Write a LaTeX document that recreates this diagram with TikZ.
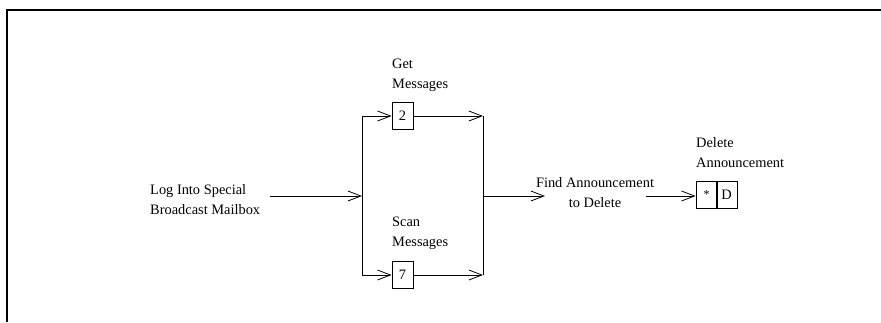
\documentclass[tikz,border=0pt]{standalone}
\usepackage{fontspec}
\setmainfont{Liberation Serif}
\usetikzlibrary{arrows.meta}
\begin{document}
\begin{tikzpicture}[x=1pt,y=-1pt,
  txt/.style={inner sep=0pt,font=\fontsize{14.4}{20}\selectfont},
  numbox/.style={draw,line width=0.8pt,minimum width=21pt,minimum height=27pt,inner sep=0pt,font=\fontsize{14.4}{20}\selectfont},
  arr/.style={line width=0.8pt,-{Straight Barb[length=13pt,width=10pt,line width=0.8pt]}},
  ln/.style={line width=0.8pt}]
\useasboundingbox (0,0) rectangle (881,322);
% frame
\coordinate (ftr) at (881,10);
\coordinate (ftl) at (7,10);
\coordinate (fbl) at (7,322);
\draw[line width=1.2pt] (ftr) -- (ftl) -- (fbl);
% texts
\node[txt,anchor=west,align=left] (log) at (150,200) {Log Into Special\\Broadcast Mailbox};
\node[txt,anchor=west,align=left] (get) at (392,75) {Get\\Messages};
\node[txt,anchor=west,align=left] (scan) at (392,233) {Scan\\Messages};
\node[txt,align=center] (find) at (595,193) {Find Announcement\\to Delete};
\node[txt,anchor=west,align=left] (del) at (696,153) {Delete\\Announcement};
% boxes
\node[numbox] (b2) at (402.5,116) {2};
\node[numbox] (b7) at (402.5,275) {7};
\node[numbox] (bs) at (706.5,195) {\raisebox{-4pt}{\fontsize{12}{14}\selectfont *}};
\node[numbox] (bd) at (726.5,195) {D};
% junctions
\coordinate (ls) at (270,196);
\coordinate (jm) at (362,196);
\coordinate (jt) at (362,116);
\coordinate (jb) at (362,275);
\coordinate (rt) at (483,116);
\coordinate (rb) at (483,275);
\coordinate (rm) at (483,196);
\coordinate (fa) at (545,196);
\coordinate (fb) at (646,196);
% connectors
\draw[arr] (ls) -- (jm);
\draw[ln] (jt) -- (jb);
\draw[arr] (jt) -- (b2.west |- jt);
\draw[arr] (jb) -- (b7.west |- jb);
\draw[arr] (b2.east |- rt) -- (rt);
\draw[arr] (b7.east |- rb) -- (rb);
\draw[ln] (rt) -- (rb);
\draw[arr] (rm) -- (fa);
\draw[arr] (fb) -- (bs.west |- fb);
\end{tikzpicture}
\end{document}
